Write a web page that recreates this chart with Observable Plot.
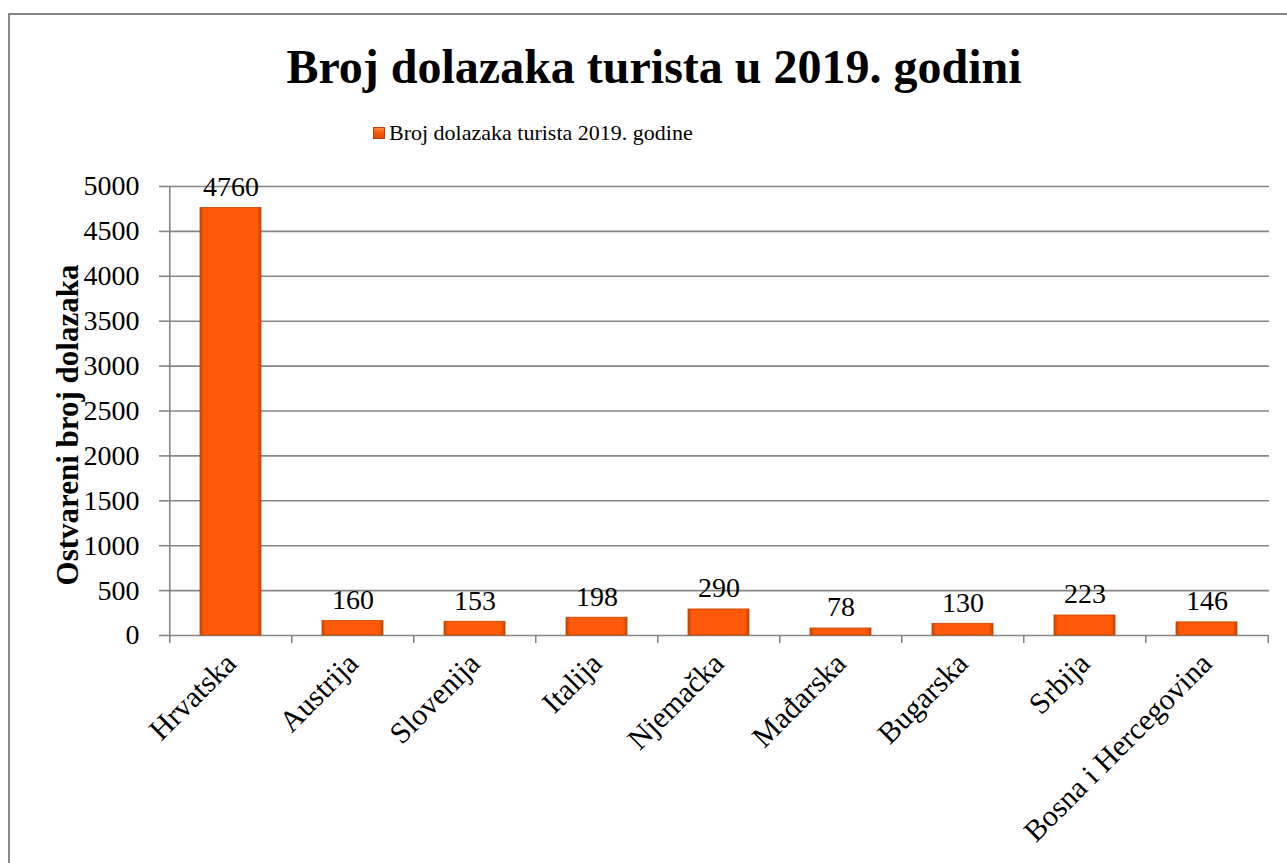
<!DOCTYPE html>
<html>
<head>
<meta charset="utf-8">
<script src="https://cdn.jsdelivr.net/npm/d3@7"></script>
<script src="https://cdn.jsdelivr.net/npm/@observablehq/plot@0.6"></script>
<style>
  html, body { margin: 0; padding: 0; background: #fff; }
  #wrap { position: relative; width: 1287px; height: 863px; overflow: hidden; font-family: "Liberation Serif", "Times New Roman", serif; }
  #border { position: absolute; left: 8px; top: 13px; width: 1400px; height: 1000px; border-left: 2.5px solid #868686; border-top: 2.5px solid #868686; }
  #title { position: absolute; left: 0; top: 39px; width: 1308px; text-align: center; font-family: "Liberation Serif", serif; font-size: 48px; font-weight: bold; line-height: normal; white-space: nowrap; }
  #legend { position: absolute; left: 373px; top: 120px; font-family: "Liberation Serif", serif; font-size: 22px; line-height: normal; white-space: nowrap; display: flex; align-items: center; }
  #legend .sw { width: 10px; height: 10px; background: linear-gradient(#ff8a45, #ff5a0a 40%, #e04c00); border: 1px solid #b84000; margin-right: 4px; }
  #chart { position: absolute; left: 0; top: 0; }
  #chart svg { background: transparent; }
  #chart svg, #chart svg text { font-family: "Liberation Serif", "Times New Roman", serif !important; }
</style>
</head>
<body>
<div id="wrap">
  <div id="border"></div>
  <div id="chart"></div>
  <div id="title">Broj dolazaka turista u 2019. godini</div>
  <div id="legend"><span class="sw"></span><span id="legendText"></span></div>
</div>
<script>
const categories = ["Hrvatska", "Austrija", "Slovenija", "Italija", "Njemačka", "Mađarska", "Bugarska", "Srbija", "Bosna i Hercegovina"];
const values = [4760, 160, 153, 198, 290, 78, 130, 223, 146];
const yTicks = [0, 500, 1000, 1500, 2000, 2500, 3000, 3500, 4000, 4500, 5000];
const seriesName = "Broj dolazaka turista 2019. godine";
const yLabel = "Ostvareni broj dolazaka";

document.getElementById("legendText").textContent = seriesName;

const data = categories.map((c, i) => ({country: c, value: values[i]}));

const W = 1287, H = 863, mL = 167, mR = 18, mT = 186, mB = 228;
const step = (W - mL - mR) / categories.length;
const gray = "#868686";
const serif = "Liberation Serif";

const chart = Plot.plot({
  width: W,
  height: H,
  marginLeft: mL,
  marginRight: mR,
  marginTop: mT,
  marginBottom: mB,
  style: {fontFamily: serif, fontSize: "26px", color: "black", background: "transparent", overflow: "visible"},
  x: {domain: categories, paddingInner: 0.5, paddingOuter: 0.25, label: null},
  y: {domain: [0, 5000], label: null},
  marks: [
    Plot.gridY(yTicks, {stroke: gray, strokeOpacity: 1, strokeWidth: 1.6}),
    Plot.ruleX([categories[0]], {dx: -step / 2, stroke: gray, strokeWidth: 1.6}),
    Plot.axisY(yTicks, {tickSize: 8, tickPadding: 20, tickFormat: d => String(d), stroke: gray, strokeWidth: 1.6, fill: "black", fontSize: 28, fontFamily: serif, label: null}),
    Plot.axisX({tickSize: 8, tickFormat: () => "", dx: -step / 2, stroke: gray, strokeWidth: 1.6, label: null}),
    Plot.axisX([categories[categories.length - 1]], {tickSize: 8, tickFormat: () => "", dx: step / 2, stroke: gray, strokeWidth: 1.6, label: null}),
    Plot.axisX({tickSize: 0, tickPadding: 23, tickRotate: -45, fontSize: 30, fontFamily: serif, fill: "black", label: null}),
    Plot.barY(data, {x: "country", y: "value", fill: "url(#barGrad)", stroke: "#c44200", strokeWidth: 0.8}),
    Plot.text(data, {x: "country", y: "value", text: d => String(d.value), lineAnchor: "bottom", dy: -12, fontSize: 28, fontFamily: serif, fill: "black"}),
    Plot.text([yLabel], {frameAnchor: "left", textAnchor: "middle", rotate: -90, dx: -99, dy: 14, fontWeight: "bold", fontSize: 31, fontFamily: serif, fill: "black"})
  ]
});

d3.select(chart).insert("defs", ":first-child").html(`
  <linearGradient id="barGrad" x1="0" x2="1" y1="0" y2="0">
    <stop offset="0" stop-color="#c94400"/>
    <stop offset="0.07" stop-color="#ff5a0a"/>
    <stop offset="0.93" stop-color="#ff5a0a"/>
    <stop offset="1" stop-color="#c94400"/>
  </linearGradient>`);

document.getElementById("chart").appendChild(chart);
</script>
</body>
</html>
